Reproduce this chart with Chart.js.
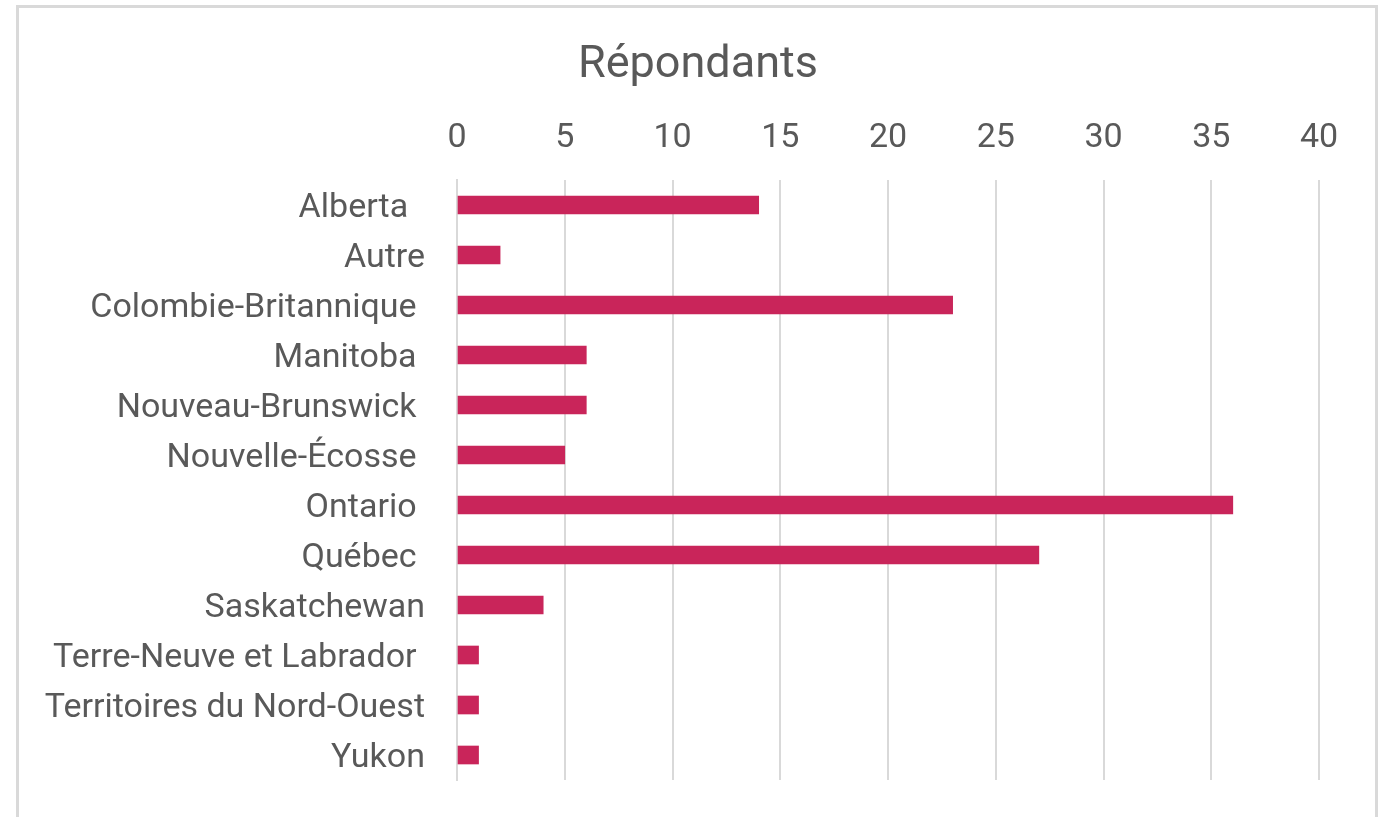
<!DOCTYPE html>
<html>
<head>
<meta charset="utf-8">
<script src="https://cdn.jsdelivr.net/npm/chart.js@4/dist/chart.umd.min.js"></script>
<style>
  html, body { margin: 0; padding: 0; background: #fff; overflow: hidden; }
  #frame { position: absolute; left: 16px; top: 5px; width: 1362px; height: 830px; border: 3px solid #d9d9d9; box-sizing: border-box; }
  #wrap { position: absolute; left: 0; top: 0; width: 1392px; height: 817px; }
</style>
</head>
<body>
<div id="frame"></div>
<div id="wrap"><canvas id="chart"></canvas></div>
<script>
// Provinces (les espaces en fin de libellé viennent de l'original)
const provinces = [
  'Alberta  ', 'Autre', 'Colombie-Britannique ', 'Manitoba ', 'Nouveau-Brunswick ',
  'Nouvelle-Écosse ', 'Ontario ', 'Québec ', 'Saskatchewan', 'Terre-Neuve et Labrador ',
  'Territoires du Nord-Ouest', 'Yukon'
];
const repondants = [14, 2, 23, 6, 6, 5, 36, 27, 4, 1, 1, 1];
const xTicks = [0, 5, 10, 15, 20, 25, 30, 35, 40];

const textColor = '#595959';
const gridColor = '#d9d9d9';

const ctx = document.getElementById('chart').getContext('2d');
new Chart(ctx, {
  type: 'bar',
  data: {
    labels: provinces,
    datasets: [{
      label: 'Répondants',
      data: repondants,
      backgroundColor: '#c9255a',
      borderWidth: 0,
      barThickness: 18,
    }],
  },
  options: {
    indexAxis: 'y',
    responsive: true,
    maintainAspectRatio: false,
    animation: false,
    // marges gauche/droite égales pour que le titre soit centré sur la page
    layout: { padding: { left: 20, right: 16, top: 0, bottom: 37 } },
    plugins: {
      legend: { display: false },
      tooltip: { enabled: false },
      title: {
        display: true,
        text: 'Répondants',
        color: textColor,
        font: { family: 'Roboto', size: 45, weight: 'normal' },
        padding: { top: 39, bottom: 4 },
      },
    },
    scales: {
      x: {
        position: 'top',
        min: xTicks[0],
        max: xTicks[xTicks.length - 1],
        afterBuildTicks: (axis) => { axis.ticks = xTicks.map((v) => ({ value: v })); },
        afterFit: (axis) => {
          axis.height = 180 - 97;
          axis.paddingLeft = 0;
          axis.paddingRight = 73; // zone vide à droite du graphique
        },
        ticks: {
          color: textColor,
          font: { family: 'Roboto', size: 34 },
          padding: 21,
        },
        grid: { color: gridColor, lineWidth: 2, drawTicks: false },
        border: { display: false },
      },
      y: {
        afterFit: (axis) => {
          axis.width = 437;
          axis.paddingTop = 0;
          axis.paddingBottom = 0;
        },
        ticks: {
          color: textColor,
          font: { family: 'Roboto', size: 34 },
          padding: 32,
          labelOffset: 3,
        },
        grid: { display: false, drawTicks: false },
        border: { display: true, color: gridColor, width: 2 },
      },
    },
  },
});
</script>
</body>
</html>
